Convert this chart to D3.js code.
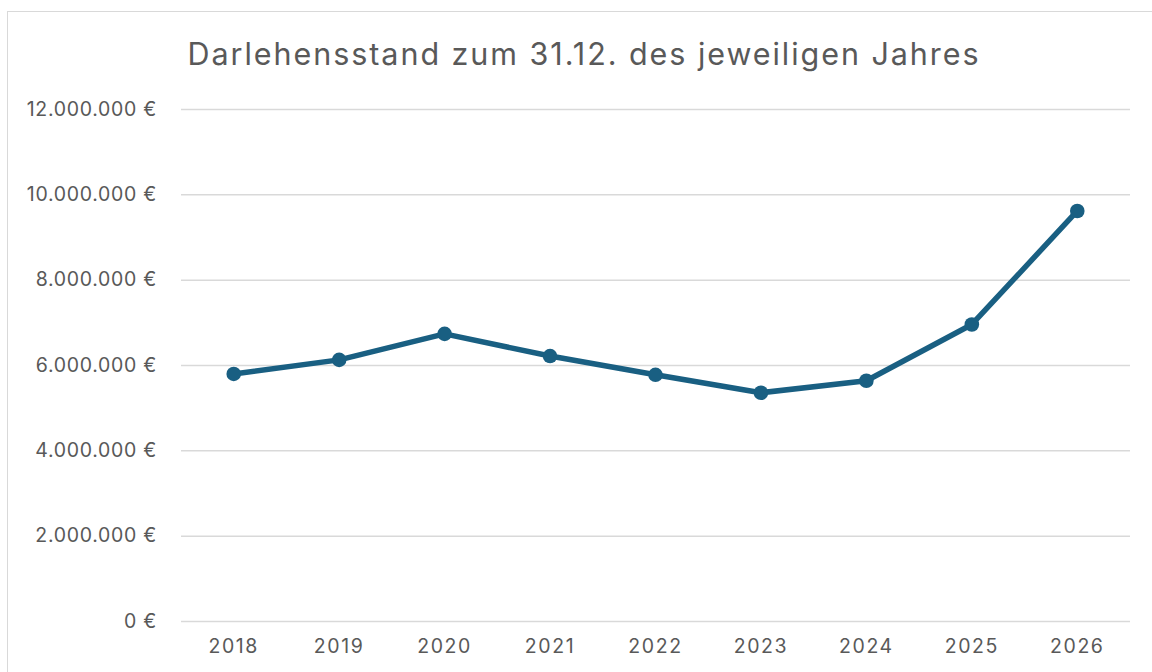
<!DOCTYPE html>
<html><head><meta charset="utf-8">
<script src="https://cdn.jsdelivr.net/npm/d3@7"></script>
<style>html,body{margin:0;padding:0;background:#fff;}svg{display:block;}</style>
</head><body>
<svg id="c" width="1152" height="672"></svg>
<script>
const years = ["2018","2019","2020","2021","2022","2023","2024","2025","2026"];
const values = [5790000, 6120000, 6730000, 6210000, 5770000, 5350000, 5630000, 6950000, 9610000];
const yTicks = [0, 2000000, 4000000, 6000000, 8000000, 10000000, 12000000];
const title = "Darlehensstand zum 31.12. des jeweiligen Jahres";

const svg = d3.select("#c");
const font = "Inter, 'Open Sans', 'Noto Sans', sans-serif";
svg.append("rect").attr("x",7.5).attr("y",11.5).attr("width",1160).attr("height",700)
  .attr("fill","#fff").attr("stroke","#d9d9d9").attr("stroke-width",1);

const m = {left:181, right:1130, top:109, bottom:621};
const x = d3.scaleBand().domain(years).range([m.left, m.right]);
const y = d3.scaleLinear().domain([0,12000000]).range([m.bottom, m.top]);

const fmt = v => d3.format(",")(v).replace(/,/g,".") + " €";

svg.append("text").attr("x",584).attr("y",65).attr("text-anchor","middle")
  .attr("font-family",font).attr("font-size",30.5).attr("letter-spacing","1.95px")
  .attr("fill","#595959").text(title);

const ya = svg.append("g").attr("transform",`translate(${m.left},0)`)
  .call(d3.axisLeft(y).tickValues(yTicks).tickSize(-(m.right-m.left)).tickPadding(24).tickFormat(fmt));
ya.select(".domain").remove();
ya.selectAll(".tick line").attr("stroke","#d9d9d9").attr("stroke-width",1.5);
ya.selectAll(".tick text").attr("font-family",font).attr("font-size",19.5).attr("letter-spacing","0.7px").attr("fill","#595959");

const xa = svg.append("g").attr("transform",`translate(0,${m.bottom})`)
  .call(d3.axisBottom(x).tickSize(0).tickPadding(18));
xa.select(".domain").remove();
xa.selectAll(".tick text").attr("font-family",font).attr("font-size",19.5).attr("letter-spacing","1.6px").attr("fill","#595959");

const data = years.map((d,i)=>({year:d, value:values[i]}));
const cx = d => x(d.year) + x.bandwidth()/2;
svg.append("path").datum(data)
  .attr("fill","none").attr("stroke","#195f82").attr("stroke-width",5.5).attr("stroke-linejoin","round")
  .attr("d", d3.line().x(cx).y(d=>y(d.value)));
svg.selectAll("circle.pt").data(data).enter().append("circle").attr("class","pt")
  .attr("cx",cx).attr("cy",d=>y(d.value)).attr("r",7.3).attr("fill","#195f82");
</script>
</body></html>
